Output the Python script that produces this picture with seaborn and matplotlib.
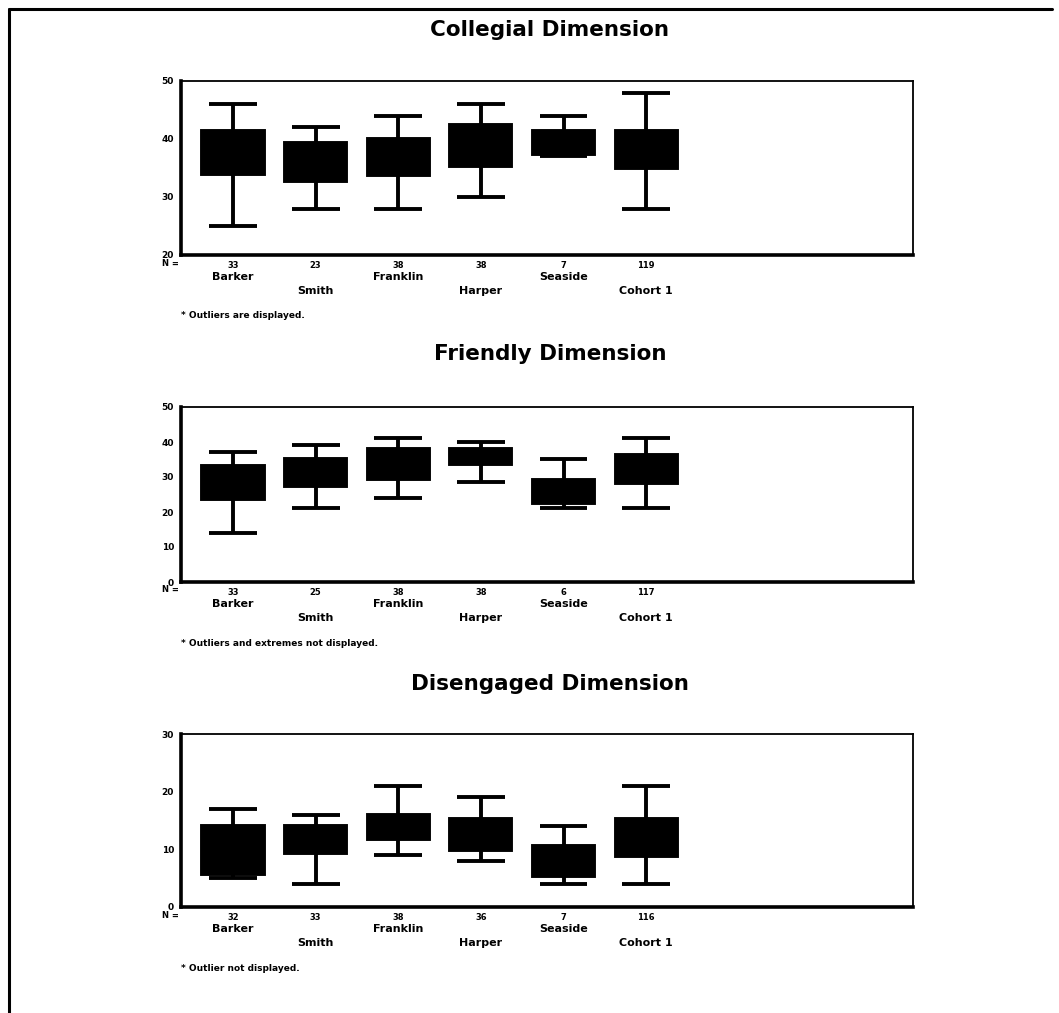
import numpy as np
import pandas as pd
import matplotlib
matplotlib.use("Agg")
import matplotlib.pyplot as plt
from matplotlib.lines import Line2D
import seaborn as sns

# groups along the x axis
groups = ["Barker", "Smith", "Franklin", "Harper", "Seaside", "Cohort 1"]

# five-number summaries:
# low whisker, lower quartile, median, upper quartile, high whisker
collegial = [
    [25, 34.0, 37.5, 41.3, 46],
    [28, 32.7, 36.0, 39.3, 42],
    [28, 33.8, 37.0, 40.0, 44],
    [30, 35.3, 39.0, 42.4, 46],
    [37, 37.4, 39.0, 41.3, 44],
    [28, 35.0, 38.0, 41.3, 48],
]
friendly = [
    [14.0, 23.6, 28.0, 33.0, 37],
    [21.0, 27.3, 31.0, 35.0, 39],
    [24.0, 29.5, 34.0, 38.1, 41],
    [28.6, 33.6, 36.0, 38.0, 40],
    [21.0, 22.6, 26.0, 29.0, 35],
    [21.0, 28.4, 32.0, 36.2, 41],
]
disengaged = [
    [5, 5.7, 10.0, 14.0, 17],
    [4, 9.3, 12.0, 14.0, 16],
    [9, 11.8, 14.0, 16.0, 21],
    [8, 9.8, 12.0, 15.2, 19],
    [4, 5.4, 8.0, 10.5, 14],
    [4, 8.9, 12.0, 15.2, 21],
]

# group sizes shown under the axis
n_collegial = [33, 23, 38, 38, 7, 119]
n_friendly = [33, 25, 38, 38, 6, 117]
n_disengaged = [32, 33, 38, 36, 7, 116]

titles = ["Collegial Dimension", "Friendly Dimension", "Disengaged Dimension"]
notes = ["* Outliers are displayed.",
         "* Outliers and extremes not displayed.",
         "* Outlier not displayed."]
yticks_all = [[20, 30, 40, 50], [0, 10, 20, 30, 40, 50], [0, 10, 20, 30]]


def to_long(summary):
    rows = []
    for g, vals in zip(groups, summary):
        for v in vals:
            rows.append({"group": g, "value": v})
    return pd.DataFrame(rows)


def main():
    sns.set_style("white")
    plt.rcParams['font.family'] = ['DejaVu Sans']
    plt.rcParams['text.color'] = 'black'

    W, H = 1059, 1013
    fig = plt.figure(figsize=(W / 100, H / 100), dpi=100)

    # pixel boxes of the three panels: top, bottom
    panels = [(81, 255), (407, 582), (734, 907)]
    left, right = 181, 913
    title_y = [30, 354, 684]
    box_w = 0.74
    cap_w = 0.58

    datasets = [collegial, friendly, disengaged]
    counts = [n_collegial, n_friendly, n_disengaged]

    for k in range(3):
        top, bot = panels[k]
        ax = fig.add_axes([left / W, 1 - bot / H, (right - left) / W, (bot - top) / H])
        df = to_long(datasets[k])
        sns.boxplot(
            data=df, x="group", y="value", order=groups,
            whis=(0, 100), width=box_w, color="black", linecolor="black",
            saturation=1, linewidth=2.8, showfliers=False, ax=ax,
        )
        # widen the whisker caps (they are shorter than the boxes)
        for ln in ax.lines:
            xd = np.asarray(ln.get_xdata(), dtype=float)
            yd = np.asarray(ln.get_ydata(), dtype=float)
            if len(xd) == 2 and yd[0] == yd[1]:
                span = xd[1] - xd[0]
                if 0 < span < box_w * 0.9:
                    mid = xd.mean()
                    ln.set_xdata([mid - cap_w / 2, mid + cap_w / 2])
            ln.set_solid_capstyle("butt")

        ax.set_xlim(-0.63, 8.23)
        yt = yticks_all[k]
        ax.set_ylim(yt[0], yt[-1])
        ax.set_yticks(yt)
        ax.set_yticklabels([str(v) for v in yt], fontsize=6.5, fontweight="bold")
        ax.set_xticks(range(len(groups)))
        ax.set_xticklabels([str(n) for n in counts[k]], fontsize=6, fontweight="bold")
        ax.tick_params(axis="x", length=3, width=1.5, pad=1, direction="out",
                       colors="black")
        ax.tick_params(axis="y", length=3, width=1.5, pad=2, direction="out",
                       colors="black")
        ax.set_xlabel("")
        ax.set_ylabel("")
        for side in ["left", "bottom"]:
            ax.spines[side].set_linewidth(2.6)
        for side in ["top", "right"]:
            ax.spines[side].set_linewidth(1.3)
        for s in ax.spines.values():
            s.set_color("black")

        ax.annotate("N =", xy=(0, 0), xycoords="axes fraction",
                    xytext=(-11, -8), textcoords="offset pixels",
                    ha="center", va="center", fontsize=6, fontweight="bold")
        for i, g in enumerate(groups):
            off = -22 if i % 2 == 0 else -36
            ax.annotate(g, xy=(i, 0), xycoords=("data", "axes fraction"),
                        xytext=(0, off), textcoords="offset pixels",
                        ha="center", va="center", fontsize=8, fontweight="bold")

        fig.text(550 / W, 1 - title_y[k] / H, titles[k], ha="center", va="center",
                 fontsize=15.5, fontweight="bold")
        fig.text(left / W, 1 - (bot + 61) / H, notes[k], ha="left", va="center",
                 fontsize=6.5, fontweight="bold")

    # page frame (left and top edges)
    fig.add_artist(Line2D([9 / W, 9 / W], [0, 1 - 9 / H], color="black", lw=2.2,
                          transform=fig.transFigure))
    fig.add_artist(Line2D([9 / W, 1052 / W], [1 - 9 / H, 1 - 9 / H], color="black",
                          lw=2.2, transform=fig.transFigure))

    fig.savefig("out.png", dpi=100)


if __name__ == "__main__":
    main()
